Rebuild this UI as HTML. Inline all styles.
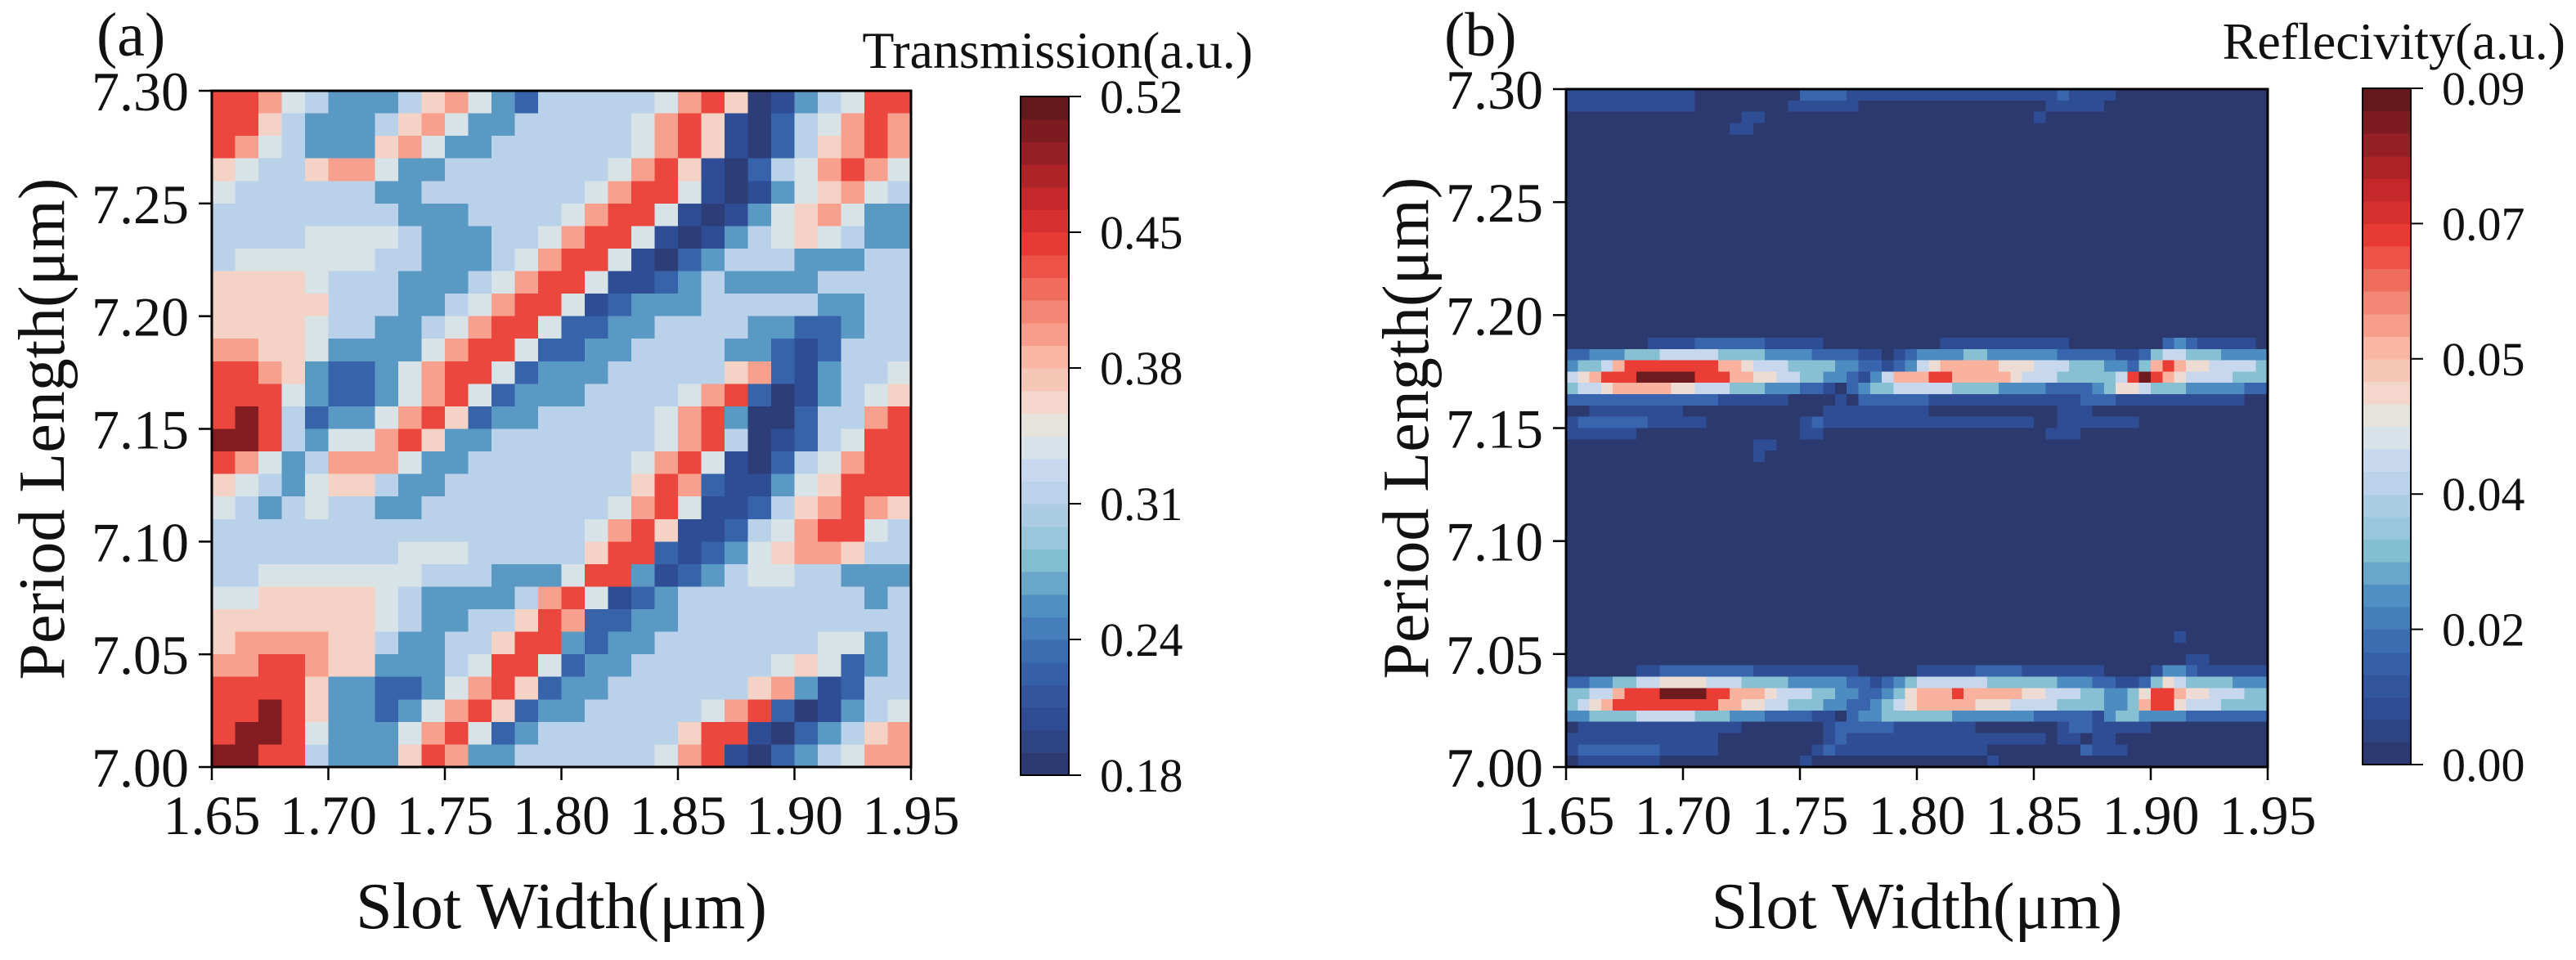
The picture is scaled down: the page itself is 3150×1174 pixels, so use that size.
<!DOCTYPE html>
<html><head><meta charset="utf-8">
<style>
html,body{margin:0;padding:0;background:#fff;}
svg{display:block;font-family:"Liberation Serif","Times New Roman",serif;}
</style></head>
<body>
<svg id="fig" width="3150" height="1174" viewBox="0 0 3150 1174" xmlns="http://www.w3.org/2000/svg"></svg>
<script>
// ===== Panel (a) data: Transmission, 30 cols (1.65→1.95) × 30 rows (7.30 → 7.00), level codes =====
const aXTicks = [1.65, 1.70, 1.75, 1.80, 1.85, 1.90, 1.95];
const aYTicks = [7.00, 7.05, 7.10, 7.15, 7.20, 7.25, 7.30];
const aXTickLabels = ["1.65","1.70","1.75","1.80","1.85","1.90","1.95"];
const aYTickLabels = ["7.00","7.05","7.10","7.15","7.20","7.25","7.30"];
const aCbTicks = [0.18, 0.248, 0.316, 0.384, 0.452, 0.52];
const aCbTickLabels = ["0.18","0.24","0.31","0.38","0.45","0.52"];
const aLevelValues = [0.19, 0.21, 0.235, 0.27, 0.32, 0.345, 0.37, 0.40, 0.44, 0.50];
const aRows = [
"887543334675324444457860134588",
"886433346753344444578610245787",
"875433367533444444578610246787",
"654467753344444445786102457875",
"544444433444444457885101356754",
"444444443334444578851013567533",
"444455554333445788510134565433",
"455555544333457885102344433344",
"666654443334578851123433334444",
"666664443345788512333444443344",
"666654433457885223344443322344",
"776653333578852233444433212444",
"887632235788523334444467213445",
"888532235785233344445782013456",
"898423357862334444457830024478",
"998435578633444444457840124588",
"875347775334444444578510245788",
"654356643344444444687211356888",
"543454433444444445785112467876",
"444444444444444457861124578854",
"444444445554444468821235677644",
"445555555444333588312345544333",
"556666654333347851234444444434",
"666666654334468722334444444444",
"677776643344688323344444445534",
"778876633345885233444444565234",
"888863322357862334444446731244",
"889863323578623344444578201345",
"899853335785234444446881023467",
"998843336873344444457810234577"
];
// ===== Panel (b) data: Reflectivity, 60 cols × 60 rows (7.30 → 7.00), level codes =====
const bXTicks = [1.65, 1.70, 1.75, 1.80, 1.85, 1.90, 1.95];
const bYTicks = [7.00, 7.05, 7.10, 7.15, 7.20, 7.25, 7.30];
const bXTickLabels = ["1.65","1.70","1.75","1.80","1.85","1.90","1.95"];
const bYTickLabels = ["7.00","7.05","7.10","7.15","7.20","7.25","7.30"];
const bCbTicks = [0.0, 0.018, 0.036, 0.054, 0.072, 0.09];
const bCbTickLabels = ["0.00","0.02","0.04","0.05","0.07","0.09"];
const bLevelValues = [0.001, 0.008, 0.015, 0.022, 0.029, 0.040, 0.048, 0.056, 0.070, 0.087];
const bRows = [
"111111111110000000002222111111111111111111211110000000000000",
"111111111110000000011111100000000000000001111100000000000000",
"000000000000000110000000000000000000000010000000000000000000",
"000000000000001100000000000000000000000000000000000000000000",
"000000000000000000000000000000000000000000000000000000000000",
"000000000000000000000000000000000000000000000000000000000000",
"000000000000000000000000000000000000000000000000000000000000",
"000000000000000000000000000000000000000000000000000000000000",
"000000000000000000000000000000000000000000000000000000000000",
"000000000000000000000000000000000000000000000000000000000000",
"000000000000000000000000000000000000000000000000000000000000",
"000000000000000000000000000000000000000000000000000000000000",
"000000000000000000000000000000000000000000000000000000000000",
"000000000000000000000000000000000000000000000000000000000000",
"000000000000000000000000000000000000000000000000000000000000",
"000000000000000000000000000000000000000000000000000000000000",
"000000000000000000000000000000000000000000000000000000000000",
"000000000000000000000000000000000000000000000000000000000000",
"000000000000000000000000000000000000000000000000000000000000",
"000000000000000000000000000000000000000000000000000000000000",
"000000000000000000000000000000000000000000000000000000000000",
"000000000000000000000000000000000000000000000000000000000000",
"000000011112222221111100000000001111111111100000000232111110",
"223334445555544443333222211012333344333333222221124554443333",
"344578888888877655544443322123567777766655544433247876655554",
"567888999998887766554433213577788777776555444445898765555444",
"455677777665554443332210234455555444433332222346654443333322",
"222222222222211111100001022222211111111111112221111111111100",
"001111111100000000000011111111100000000000111000000000000000",
"122222211111000000001211111111111111111100111111100000000000",
"111111000000000000001100000000000000000001110000000000000000",
"000000000000000011000000000000000000000000000000000000000000",
"000000000000000010000000000000000000000000000000000000000000",
"000000000000000000000000000000000000000000000000000000000000",
"000000000000000000000000000000000000000000000000000000000000",
"000000000000000000000000000000000000000000000000000000000000",
"000000000000000000000000000000000000000000000000000000000000",
"000000000000000000000000000000000000000000000000000000000000",
"000000000000000000000000000000000000000000000000000000000000",
"000000000000000000000000000000000000000000000000000000000000",
"000000000000000000000000000000000000000000000000000000000000",
"000000000000000000000000000000000000000000000000000000000000",
"000000000000000000000000000000000000000000000000000000000000",
"000000000000000000000000000000000000000000000000000000000000",
"000000000000000000000000000000000000000000000000000000000000",
"000000000000000000000000000000000000000000000000000000000000",
"000000000000000000000000000000000000000000000000000000000000",
"000000000000000000000000000000000000000000000000000000000000",
"000000000000000000000000000000000000000000000000000010000000",
"000000000000000000000000000000000000000000000000000000000000",
"000000000000000000000000000000000000000000000000000001100000",
"000000112222222211111111100000111112222111111100001332111111",
"223344556666555444433333221234555555444444333221124654444333",
"445578889999887776555443322346777877777665554433468876655544",
"456788888888877665544433223456777776665555444433478865554444",
"334444555554443332222110233444444333333322222134433332222222",
"011111111111111000000012222211111110000000122111110000000000",
"111111111111100000000012111111111111111110110110000000000000",
"122222221111100000000121111111111111000000002111000000000000",
"011111110000000000001000000000000000100000000000000000000000"
];

const NS = "http://www.w3.org/2000/svg";
const FONT = '"Liberation Serif", "Times New Roman", serif';
const svg = document.getElementById('fig');
const stops = [[0,"#2b3668"],[0.08,"#2e4a92"],[0.17,"#3866ae"],[0.25,"#4f8fc2"],[0.32,"#86c0d2"],[0.40,"#b5cfe8"],[0.46,"#ccdaf0"],[0.50,"#dfe8e4"],[0.55,"#f4d6cc"],[0.62,"#f9b4a0"],[0.70,"#f27a68"],[0.78,"#ea3b35"],[0.86,"#c02528"],[0.93,"#8b1e23"],[1,"#561719"]];
function hex(h){return [parseInt(h.slice(1,3),16),parseInt(h.slice(3,5),16),parseInt(h.slice(5,7),16)];}
function cmap(t){
  t=Math.max(0,Math.min(1,t));
  for(let i=1;i<stops.length;i++){
    if(t<=stops[i][0]){
      const a=stops[i-1],b=stops[i];const f=(t-a[0])/(b[0]-a[0]);
      const ca=hex(a[1]),cb=hex(b[1]);
      return "rgb("+ca.map((v,k)=>Math.round(v+(cb[k]-v)*f)).join(",")+")";
    }
  }
  return stops[stops.length-1][1];
}
function mk(tag,attrs,parent){const e=document.createElementNS(NS,tag);for(const k in attrs)e.setAttribute(k,attrs[k]);if(tag==='text')e.setAttribute('font-family',FONT);(parent||svg).appendChild(e);return e;}

function drawPanel(cfg){
  const g=mk('g',{});
  
  
  const L=cfg.L,R=cfg.R,T=cfg.T,B=cfg.B;
  const xs=v=>L+(v-1.65)/(1.95-1.65)*(R-L);
  const ys=v=>B-(v-7.00)/(7.30-7.00)*(B-T);
  const nR=cfg.rows.length,nC=cfg.rows[0].length;
  const dx=(1.95-1.65)/nC, dy=(7.30-7.00)/nR;
  const hm=mk('g',{'shape-rendering':'crispEdges'},g);
  
  
  for(let r=0;r<nR;r++){
    for(let c=0;c<nC;c++){
      const val=cfg.levels[+cfg.rows[r][c]];
      const x0=xs(1.65+c*dx),x1=xs(1.65+(c+1)*dx);
      const yTop=ys(7.30-r*dy),yBot=ys(7.30-(r+1)*dy);
      const cell=mk('rect',{x:x0.toFixed(2),y:yTop.toFixed(2),width:(x1-x0+0.6).toFixed(2),height:(yBot-yTop+0.6).toFixed(2),fill:cmap((val-cfg.vmin)/(cfg.vmax-cfg.vmin))},hm);
      
      
    }
  }
  const fr=mk('rect',{x:L,y:T,width:R-L,height:B-T,fill:'none',stroke:'#000','stroke-width':3},g);
  
  
  cfg.xt.forEach((v,i)=>{
    const x=xs(v);
    const tk=mk('line',{x1:x,y1:B,x2:x,y2:B+16,stroke:'#000','stroke-width':2.5},g);
    
    
    const t=mk('text',{x:x,y:B+82,'font-size':68,'text-anchor':'middle',fill:'#111'},g);
    t.textContent=cfg.xtl[i];
    
    
  });
  cfg.yt.forEach((v,i)=>{
    const y=ys(v);
    const tk=mk('line',{x1:L-16,y1:y,x2:L,y2:y,stroke:'#000','stroke-width':2.5},g);
    
    
    const t=mk('text',{x:L-28,y:y+24,'font-size':68,'text-anchor':'end',fill:'#111'},g);
    t.textContent=cfg.ytl[i];
    
    
  });
  const xl=mk('text',{x:(L+R)/2,y:1135,'font-size':80,'text-anchor':'middle',fill:'#111'},g);
  xl.textContent='Slot Width(μm)';
  
  
  const yl=mk('text',{x:0,y:0,'font-size':80,'text-anchor':'middle',fill:'#111',transform:'translate('+(cfg.ylx)+','+((T+B)/2)+') rotate(-90)'},g);
  yl.textContent='Period Length(μm)';
  
  
  const pl=mk('text',{x:cfg.plx,y:68,'font-size':76,fill:'#111'},g);
  pl.textContent=cfg.panelLabel;
  
  
  // colorbar
  const cb=mk('g',{'shape-rendering':'crispEdges'},g);
  
  
  const CL=cfg.cbL,CR=cfg.cbR,CT=cfg.cbT,CB=cfg.cbB,nb=30;
  const cys=v=>CB-(v-cfg.vmin)/(cfg.vmax-cfg.vmin)*(CB-CT);
  for(let i=0;i<nb;i++){
    const v0=cfg.vmin+i*(cfg.vmax-cfg.vmin)/nb, v1=cfg.vmin+(i+1)*(cfg.vmax-cfg.vmin)/nb;
    const band=mk('rect',{x:CL,y:cys(v1).toFixed(2),width:CR-CL,height:(cys(v0)-cys(v1)+0.6).toFixed(2),fill:cmap((i+0.5)/nb)},cb);
    
    
  }
  const cf=mk('rect',{x:CL,y:CT,width:CR-CL,height:CB-CT,fill:'none',stroke:'#000','stroke-width':2},g);
  
  
  cfg.cbt.forEach((v,i)=>{
    const y=cys(v);
    const tk=mk('line',{x1:CR,y1:y,x2:CR+15,y2:y,stroke:'#000','stroke-width':2},g);
    
    
    const t=mk('text',{x:CR+38,y:y+20,'font-size':58,fill:'#111'},g);
    t.textContent=cfg.cbtl[i];
    
    
  });
  const ct=mk('text',{x:cfg.ctx,y:cfg.cty,'font-size':64,'text-anchor':'end',fill:'#111'},g);
  ct.textContent=cfg.cbTitle;
  
  
}

drawPanel({name:'transmission-panel',L:259,R:1114,T:111,B:938,rows:aRows,levels:aLevelValues,vmin:0.18,vmax:0.52,
  xt:aXTicks,xtl:aXTickLabels,yt:aYTicks,ytl:aYTickLabels,cbt:aCbTicks,cbtl:aCbTickLabels,
  ylx:78,plx:118,panelLabel:'(a)',cbL:1248,cbR:1307,cbT:118,cbB:948,ctx:1532,cty:83,cbTitle:'Transmission(a.u.)'});
drawPanel({name:'reflectivity-panel',L:1915,R:2773,T:109,B:938,rows:bRows,levels:bLevelValues,vmin:0,vmax:0.09,
  xt:bXTicks,xtl:bXTickLabels,yt:bYTicks,ytl:bYTickLabels,cbt:bCbTicks,cbtl:bCbTickLabels,
  ylx:1746,plx:1766,panelLabel:'(b)',cbL:2889,cbR:2948,cbT:108,cbB:935,ctx:3137,cty:72,cbTitle:'Reflecivity(a.u.)'});
</script>
</body></html>
